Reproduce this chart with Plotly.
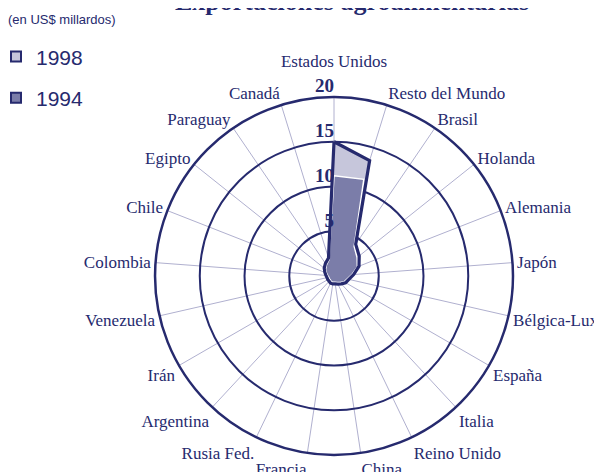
import plotly.graph_objects as go

categories = ["Estados Unidos", "Resto del Mundo", "Brasil", "Holanda", "Alemania",
              "Japón", "Bélgica-Lux", "España", "Italia", "Reino Unido", "China",
              "Francia", "Rusia Fed.", "Argentina", "Irán", "Venezuela", "Colombia",
              "Chile", "Egipto", "Paraguay", "Canadá"]
values_1998 = [15.0, 13.5, 4.3, 3.6, 3.0, 2.2, 1.7, 1.5, 1.2, 1.0, 0.9,
               0.9, 0.9, 0.8, 0.8, 0.8, 0.9, 1.1, 1.4, 1.7, 2.1]
values_1994 = [11.2, 11.3, 4.0, 3.3, 2.8, 2.0, 1.5, 1.3, 1.0, 0.8, 0.7,
               0.7, 0.7, 0.6, 0.6, 0.6, 0.7, 0.9, 1.2, 1.5, 1.9]
radial_ticks = [5, 10, 15, 20]
legend_names = ["1998", "1994"]

NAVY = "#262a6e"
LIGHT = "#c6c6db"
DARK = "#7b7da9"
SPOKE = "#b0b0cf"
SERIF = "Liberation Serif, Times New Roman"

def closed(v):
    return v + v[:1]

theta = closed(categories)
# the top label sits higher, above the "20" tick label
tick_text = [c + "<br> " if i == 0 else c for i, c in enumerate(categories)]

fig = go.Figure()
fig.add_trace(go.Scatterpolar(r=closed(values_1998), theta=theta, mode="lines",
                              fill="toself", fillcolor=LIGHT,
                              line=dict(color="white", width=1.5),
                              showlegend=False, hoverinfo="skip"))
fig.add_trace(go.Scatterpolar(r=closed(values_1994), theta=theta, mode="lines",
                              fill="toself", fillcolor=DARK,
                              line=dict(color="white", width=1.5),
                              showlegend=False, hoverinfo="skip"))
fig.add_trace(go.Scatterpolar(r=closed(values_1998), theta=theta, mode="lines",
                              line=dict(color=NAVY, width=3.2),
                              showlegend=False, hoverinfo="skip"))
# radial tick labels, drawn on the axis scale just above each ring
fig.add_trace(go.Scatterpolar(r=radial_ticks, theta=[categories[0]] * len(radial_ticks),
                              mode="text", text=[str(t) for t in radial_ticks],
                              textposition="top left",
                              textfont=dict(family=SERIF, size=19, color=NAVY, weight="bold"),
                              showlegend=False, hoverinfo="skip"))
# legend entries
for name, col, grp in [(legend_names[0], LIGHT, "a"), (legend_names[1], DARK, "b")]:
    fig.add_trace(go.Scatterpolar(r=[None], theta=[categories[0]], mode="markers",
                                  name=name, legendgroup=grp,
                                  marker=dict(symbol="square", size=10, color=col,
                                              line=dict(color=NAVY, width=2))))

fig.update_layout(
    width=602, height=472,
    margin=dict(l=0, r=0, t=0, b=0, autoexpand=False),
    paper_bgcolor="white",
    showlegend=True,
    legend=dict(x=0.0, y=0.94, xanchor="left", yanchor="top",
                font=dict(family="Liberation Sans, Arial", size=21, color=NAVY),
                traceorder="grouped", tracegroupgap=11, indentation=-12,
                itemwidth=30, bgcolor="rgba(0,0,0,0)"),
    polar=dict(
        domain=dict(x=[0.2442, 0.8389], y=[0.053, 0.8114]),
        bgcolor="white",
        angularaxis=dict(
            categoryorder="array", categoryarray=categories,
            tickvals=categories, ticktext=tick_text,
            rotation=90, direction="clockwise",
            showline=True, linecolor=NAVY, linewidth=2.5,
            gridcolor=SPOKE, gridwidth=1.3, ticks="",
            tickfont=dict(family=SERIF, size=17, color=NAVY),
        ),
        radialaxis=dict(
            range=[0, 20], tickvals=radial_ticks,
            angle=90, showticklabels=False,
            showline=False, ticks="",
            gridcolor=NAVY, gridwidth=2,
        ),
    ),
    annotations=[
        dict(text="<b>Exportaciones agroalimentarias</b>", x=0.572, y=1.0,
             xref="paper", yref="paper", xanchor="center", yanchor="middle",
             yshift=7, showarrow=False,
             font=dict(family=SERIF, size=26, color=NAVY)),
        dict(text="(en US$ millardos)", x=0.0, y=0.975, xref="paper", yref="paper",
             xanchor="left", yanchor="middle", xshift=-2, showarrow=False,
             font=dict(family="Liberation Sans, Arial", size=13, color=NAVY)),
    ],
)

fig.write_html("out.html")
